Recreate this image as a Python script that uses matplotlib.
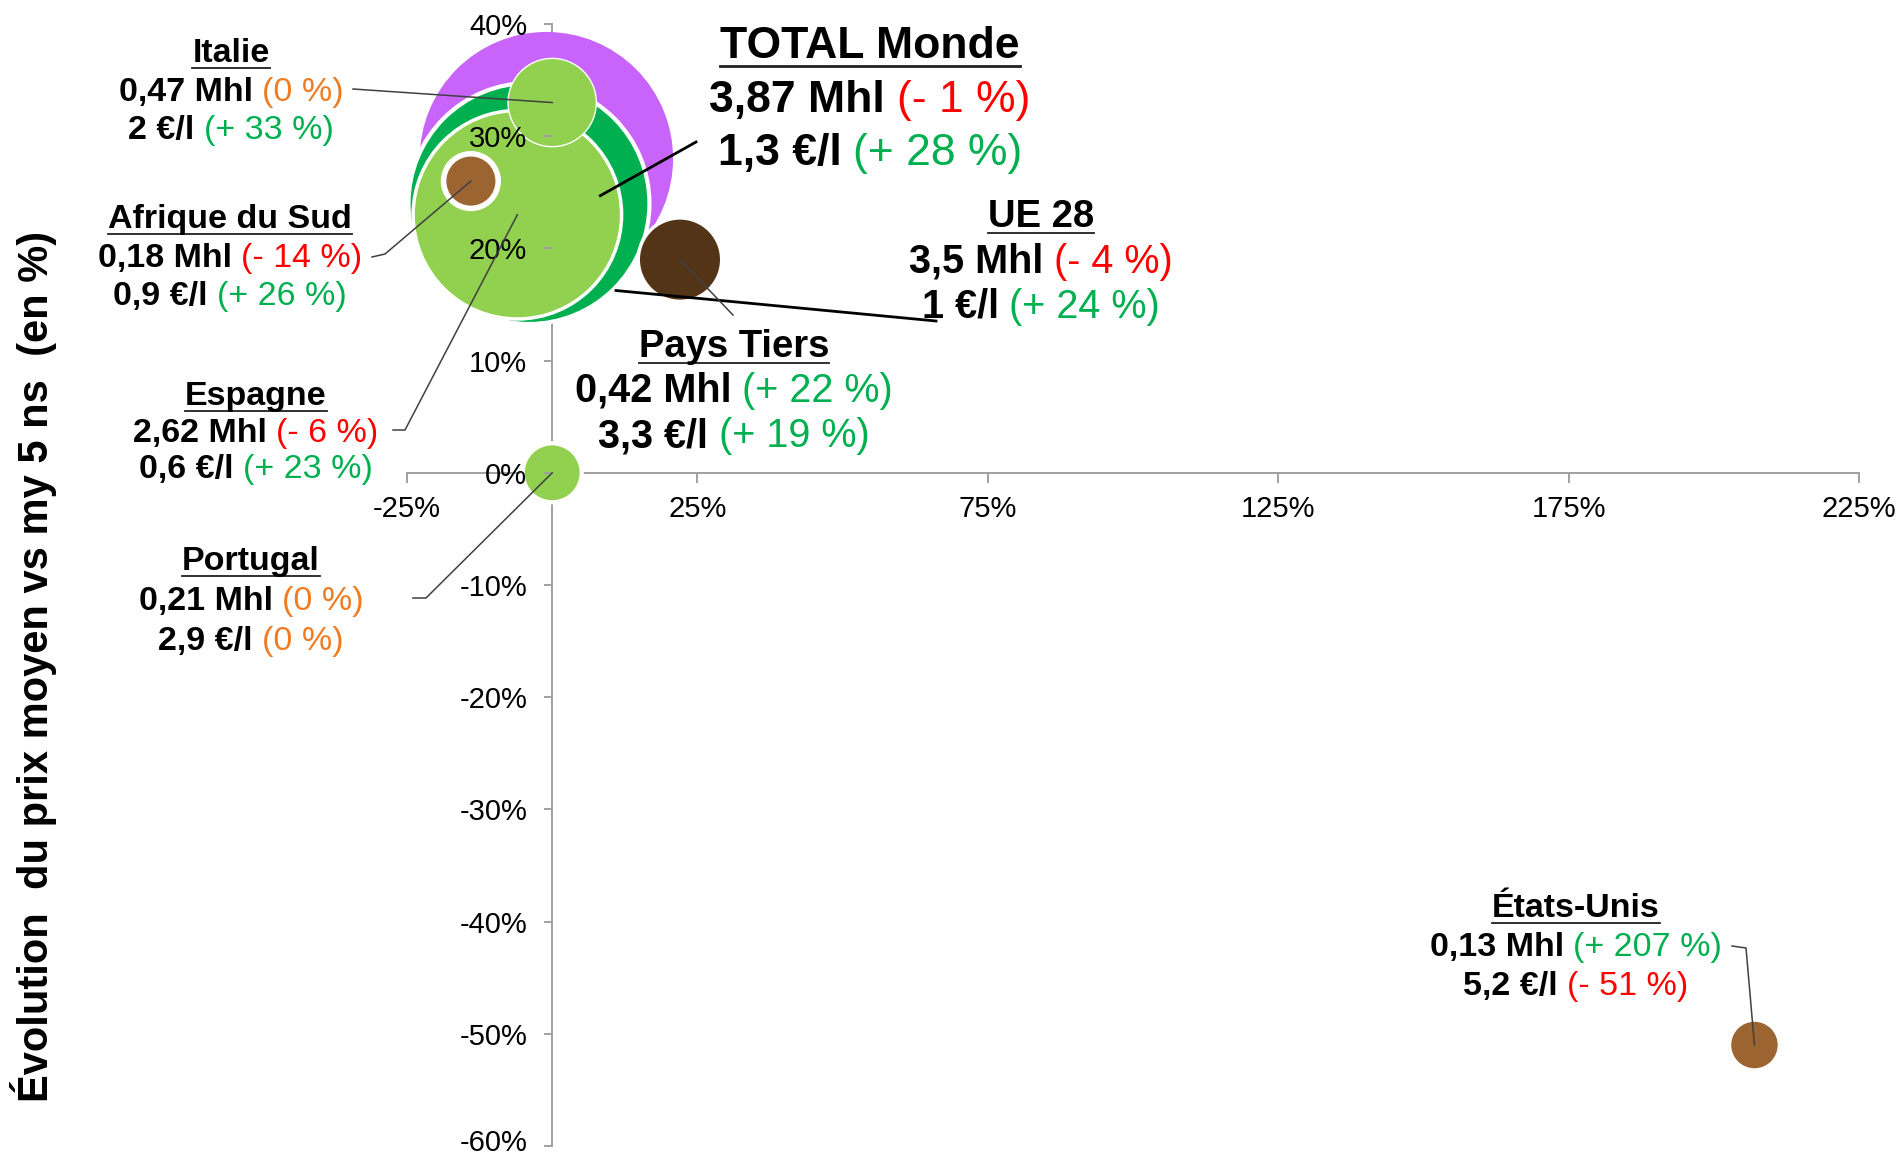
import matplotlib
matplotlib.use("Agg")
import matplotlib.pyplot as plt
from matplotlib.lines import Line2D
from matplotlib.transforms import ScaledTranslation

plt.rcParams["font.family"] = ["Liberation Sans", "DejaVu Sans"]

W, H, DPI = 1899, 1158, 100

# --- data -------------------------------------------------------------
countries = ["TOTAL Monde", "UE 28", "Espagne", "Italie", "Pays Tiers",
             "Portugal", "Afrique du Sud", "États-Unis"]
volume_mhl = [3.87, 3.5, 2.62, 0.47, 0.42, 0.21, 0.18, 0.13]
volume_var = [-1, -4, -6, 0, 22, 0, -14, 207]      # x axis, %
price_eur_l = [1.3, 1.0, 0.6, 2.0, 3.3, 2.9, 0.9, 5.2]
price_var = [28, 24, 23, 33, 19, 0, 26, -51]       # y axis, %

x_ticks = [-25, 25, 75, 125, 175, 225]
y_ticks = [-60, -50, -40, -30, -20, -10, 0, 10, 20, 30, 40]
y_label = "Évolution  du prix moyen vs my 5 ns  (en %)"

# --- style ------------------------------------------------------------
PURPLE, DKGREEN, LTGREEN = "#C864FA", "#00B050", "#92D050"
BROWN, DKBROWN = "#9C6430", "#543417"
RED, GREEN, ORANGE = "#FF0000", "#00B050", "#F07C22"
AXIS_GREY = "#A0A0A0"
bubble_color = [PURPLE, DKGREEN, LTGREEN, LTGREEN, DKBROWN, LTGREEN, BROWN, BROWN]
bubble_edge = [0, 3, 2.5, 1, 2.5, 3, 4, 0]
SIZE_K = 8600  # points^2 per Mhl

# label blocks: centre x (px), three baselines (px from top), title size, line size
label_layout = {
    "TOTAL Monde": (870, (58, 112, 165), 32, 32),
    "UE 28": (1041, (227, 273, 318), 27.5, 28.5),
    "Pays Tiers": (734, (357, 402, 447), 27.5, 28.5),
    "Italie": (231, (62, 101, 139), 24.5, 24.5),
    "Afrique du Sud": (230, (228, 267, 305), 24.5, 24.5),
    "Espagne": (256, (405, 442, 478), 24.5, 24.5),
    "Portugal": (251, (570, 610, 650), 24.5, 24.5),
    "États-Unis": (1576, (917, 956, 995), 24.5, 24.5),
}
# leader lines: start (px), optional elbow (px), offset of end from bubble centre (px), width, colour
leader_layout = {
    "TOTAL Monde": ((696, 142), None, (54, 37), 2.0, "black"),
    "UE 28": ((936, 321), None, (87, 87), 2.0, "black"),
    "Pays Tiers": ((733, 315), None, (0, 0), 1.1, "#404040"),
    "Italie": ((353, 89), None, (0, 0), 1.1, "#404040"),
    "Afrique du Sud": ((372, 257), (385, 254), (0, 0), 1.1, "#404040"),
    "Espagne": ((393, 430), (405, 430), (0, 0), 1.1, "#404040"),
    "Portugal": ((413, 598), (426, 598), (0, 0), 1.1, "#404040"),
    "États-Unis": ((1732, 946), (1746, 948), (0, 0), 1.1, "#404040"),
}


def fmt_num(v):
    return f"{v:g}".replace(".", ",")


def fmt_pct(p):
    if p == 0:
        return "(0 %)", ORANGE
    sign = "+" if p > 0 else "-"
    return f"({sign} {abs(p)} %)", (GREEN if p > 0 else RED)


def fx(px):
    return px / W


def fy(py):
    return 1 - py / H


fig = plt.figure(figsize=(W / DPI, H / DPI), dpi=DPI)
ax = fig.add_axes([fx(407), fy(1146), 1452 / W, 1122 / H])
ax.set_xlim(-25, 225)
ax.set_ylim(-60, 40)
ax.spines["top"].set_visible(False)
ax.spines["right"].set_visible(False)
ax.spines["left"].set_position(("data", 0))
ax.spines["bottom"].set_position(("data", 0))
for side in ("left", "bottom"):
    ax.spines[side].set_color(AXIS_GREY)
    ax.spines[side].set_linewidth(1.4)
    ax.spines[side].set_zorder(0.5)
ax.set_xticks(x_ticks)
ax.set_xticklabels([f"{t}%" for t in x_ticks])
ax.set_yticks(y_ticks)
ax.set_yticklabels([f"{t}%" for t in y_ticks])
ax.tick_params(axis="x", direction="out", length=7, width=1.4, color=AXIS_GREY,
               labelsize=21, pad=9)
ax.tick_params(axis="y", direction="out", length=6, width=1.4, color=AXIS_GREY,
               labelsize=21, pad=12)
ax.xaxis.set_zorder(5)
ax.yaxis.set_zorder(5)
# lowest label sits on the bottom edge: lift it a little
bottom_lbl = ax.get_yticklabels()[0]
bottom_lbl.set_transform(bottom_lbl.get_transform()
                         + ScaledTranslation(0, 4 / 72, fig.dpi_scale_trans))

ax.scatter(volume_var, price_var, s=[SIZE_K * v for v in volume_mhl],
           c=bubble_color, edgecolors="white", linewidths=bubble_edge,
           zorder=2, clip_on=False)

fig.text(fx(34), fy(666), y_label, rotation=90, ha="center", va="center",
         fontsize=30, fontweight="bold")

renderer = fig.canvas.get_renderer()
px_per_pt = DPI / 72.0


def draw_line(parts, cx, base, size):
    texts = []
    for s, weight, color in parts:
        t = fig.text(0, fy(base), s, fontsize=size, fontweight=weight, color=color,
                     ha="left", va="baseline", zorder=6)
        texts.append(t)
    widths = [t.get_window_extent(renderer).width for t in texts]
    gap = 0.27 * size * px_per_pt
    total = sum(widths) + gap * (len(texts) - 1)
    x = cx - total / 2
    for t, w in zip(texts, widths):
        t.set_x(fx(x))
        x += w + gap
    return cx - total / 2, cx + total / 2


for i, name in enumerate(countries):
    cx, bases, fs_title, fs_line = label_layout[name]
    x0, x1 = draw_line([(name, "bold", "black")], cx, bases[0], fs_title)
    ul = bases[0] + 0.17 * fs_title * px_per_pt
    fig.add_artist(Line2D([fx(x0), fx(x1)], [fy(ul), fy(ul)], color="#202020",
                          lw=1.3 if fs_title < 30 else 2.0,
                          transform=fig.transFigure, zorder=6))
    vtxt, vcol = fmt_pct(volume_var[i])
    draw_line([(f"{fmt_num(volume_mhl[i])} Mhl", "bold", "black"),
               (vtxt, "normal", vcol)], cx, bases[1], fs_line)
    ptxt, pcol = fmt_pct(price_var[i])
    draw_line([(f"{fmt_num(price_eur_l[i])} €/l", "bold", "black"),
               (ptxt, "normal", pcol)], cx, bases[2], fs_line)

    # leader line from label to bubble
    start, elbow, off, lw, lcol = leader_layout[name]
    bx, by = ax.transData.transform((volume_var[i], price_var[i]))
    end_px = (bx + off[0], (H - by) + off[1])
    pts = [start] + ([elbow] if elbow else []) + [end_px]
    fig.add_artist(Line2D([fx(p[0]) for p in pts], [fy(p[1]) for p in pts],
                          color=lcol, lw=lw, transform=fig.transFigure, zorder=5))

fig.savefig("out.png", dpi=DPI)
